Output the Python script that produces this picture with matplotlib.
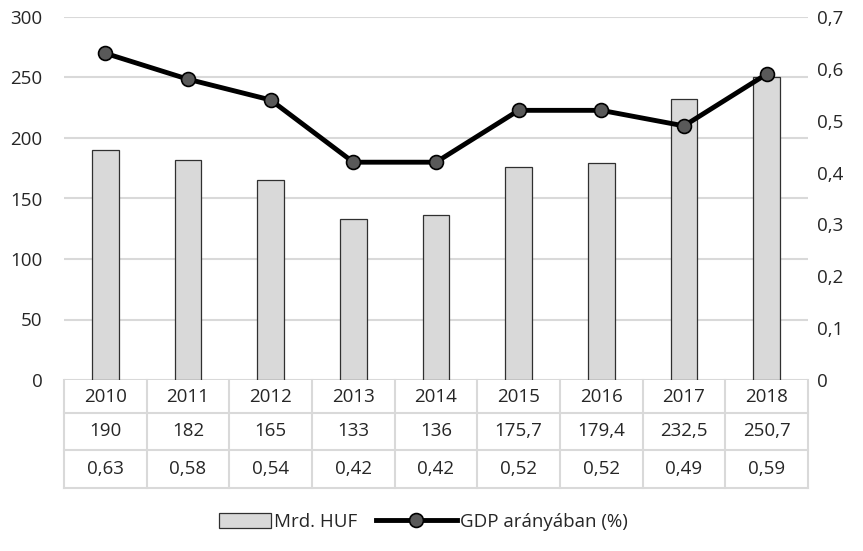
import matplotlib
matplotlib.use("Agg")
import matplotlib.pyplot as plt
from matplotlib.lines import Line2D
from matplotlib.legend_handler import HandlerPatch
import matplotlib.patches as mpatches

plt.rcParams["font.family"] = ["Open Sans", "DejaVu Sans"]

years = ["2010", "2011", "2012", "2013", "2014", "2015", "2016", "2017", "2018"]
mrd_huf = [190, 182, 165, 133, 136, 175.7, 179.4, 232.5, 250.7]
gdp_pct = [0.63, 0.58, 0.54, 0.42, 0.42, 0.52, 0.52, 0.49, 0.59]

left_ticks = [0, 50, 100, 150, 200, 250, 300]
right_ticks = [0, 0.1, 0.2, 0.3, 0.4, 0.5, 0.6, 0.7]

BAR_COLOR = "#d9d9d9"
GRID_COLOR = "#d9d9d9"
TEXT_COLOR = "#262626"
FS = 13.5


def hu(v):
    # Hungarian decimal comma
    s = f"{v:g}"
    return s.replace(".", ",")


def short_box(legend, orig_handle, xdescent, ydescent, width, height, fontsize):
    # narrower swatch, pushed to the right end of the handle box
    w = width * 0.65
    return mpatches.Rectangle((width - w - xdescent, -ydescent), w, height)


W, H = 863, 551
fig = plt.figure(figsize=(W / 100, H / 100), dpi=100)

x0, x1 = 64 / W, 808 / W
y_top, y_zero = 17, 380
ax = fig.add_axes([x0, 1 - y_zero / H, x1 - x0, (y_zero - y_top) / H])
xs = list(range(len(years)))

ax.bar(xs, mrd_huf, width=0.32, color=BAR_COLOR, edgecolor="#303030",
       linewidth=0.9, zorder=2)
ax.set_xlim(-0.5, len(years) - 0.5)
ax.set_ylim(0, 300)
ax.set_yticks(left_ticks)
ax.set_yticklabels([str(t) for t in left_ticks])
ax.set_xticks([])
ax.yaxis.grid(True, color=GRID_COLOR, linewidth=1.5, zorder=0)
ax.set_axisbelow(True)
ax.tick_params(axis="y", length=0, pad=15.5, labelsize=FS, labelcolor=TEXT_COLOR)
for sp in ax.spines.values():
    sp.set_visible(False)

ax2 = ax.twinx()
ax2.plot(xs, gdp_pct, color="black", linewidth=3.5, marker="o",
         markersize=10, markerfacecolor="#595959", markeredgecolor="black",
         markeredgewidth=1.2, zorder=5)
ax2.set_ylim(0, 0.7)
ax2.set_yticks(right_ticks)
ax2.set_yticklabels([hu(t) if t else "0" for t in right_ticks])
ax2.tick_params(axis="y", length=0, pad=6.5, labelsize=FS, labelcolor=TEXT_COLOR)
for sp in ax2.spines.values():
    sp.set_visible(False)

# data table under the plot
row_edges = [380, 413, 450, 488]
tab = fig.add_axes([x0, 1 - row_edges[-1] / H, x1 - x0,
                    (row_edges[-1] - row_edges[0]) / H])
tab.set_xlim(-0.5, len(years) - 0.5)
tab.set_ylim(row_edges[-1], row_edges[0])
tab.axis("off")
rows = [years, [hu(v) for v in mrd_huf], [hu(v) for v in gdp_pct]]
for r, vals in enumerate(rows):
    yc = (row_edges[r] + row_edges[r + 1]) / 2
    for i, txt in enumerate(vals):
        tab.text(i, yc, txt, ha="center", va="center", fontsize=FS,
                 color=TEXT_COLOR)
for ye in row_edges[1:]:
    tab.plot([-0.5, len(years) - 0.5], [ye, ye], color=GRID_COLOR,
             linewidth=1.5, clip_on=False)
for i in range(len(years) + 1):
    tab.plot([i - 0.5, i - 0.5], [row_edges[0], row_edges[-1]],
             color=GRID_COLOR, linewidth=1.5, clip_on=False)

bar_handle = mpatches.Patch(facecolor=BAR_COLOR, edgecolor="#303030",
                            linewidth=0.9, label="Mrd. HUF")
line_handle = Line2D([0], [0], color="black", linewidth=3.5, marker="o",
                     markersize=10, markerfacecolor="#595959",
                     markeredgecolor="black", markeredgewidth=1.2,
                     label="GDP arányában (%)")
fig.legend(handles=[bar_handle, line_handle], loc="center",
           bbox_to_anchor=(0.474, 1 - 522 / H), ncol=2, frameon=False,
           fontsize=FS, handlelength=4.3, handleheight=0.8,
           columnspacing=1.0, handletextpad=0.15, labelcolor=TEXT_COLOR,
           handler_map={bar_handle: HandlerPatch(patch_func=short_box)})

fig.savefig("out.png", dpi=100, facecolor="white")
